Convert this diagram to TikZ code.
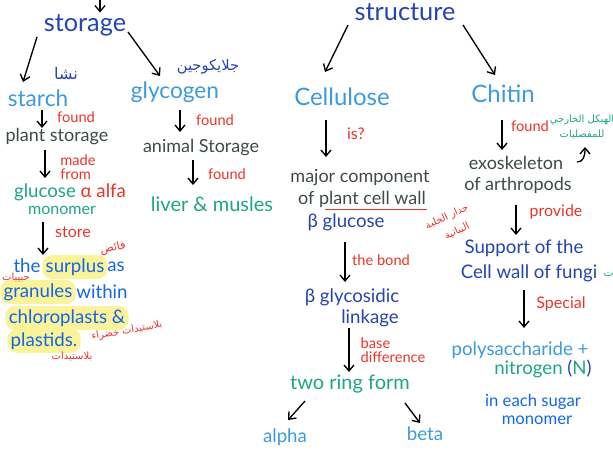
\documentclass[tikz,border=0pt]{standalone}
\usepackage{fontspec}
\setmainfont{Lato}
\newfontfamily\arabicfont[Script=Arabic]{DejaVu Sans}
\TeXXeTstate=1
\usetikzlibrary{arrows.meta,calc}
\definecolor{dblue}{HTML}{2444B0}
\definecolor{lblue}{HTML}{3C9BDC}
\definecolor{bblue}{HTML}{1466E6}
\definecolor{gray1}{HTML}{3E4A4A}
\definecolor{red1}{HTML}{E8352A}
\definecolor{green1}{HTML}{1FA584}
\definecolor{hly}{HTML}{FAF39A}
\tikzset{
  every node/.style={inner sep=1pt},
  head/.style={text=dblue, font=\fontsize{19}{21}\selectfont},
  noun/.style={text=lblue, font=\fontsize{17}{19}\selectfont},
  gtxt/.style={text=gray1, font=\fontsize{13.5}{15}\selectfont},
  dtxt/.style={text=dblue, font=\fontsize{14}{17}\selectfont},
  btxt/.style={text=bblue, font=\fontsize{14}{17}\selectfont},
  grtxt/.style={text=green1, font=\fontsize{14}{17}\selectfont},
  lab/.style={text=red1, font=\fontsize{11}{11}\selectfont, align=left},
  ar/.style={font=\arabicfont\fontsize{8.5}{9}\selectfont},
  hl/.style={fill=hly, rounded corners=7pt, inner sep=2.5pt},
  arr/.style={-{Straight Barb[length=4.5pt,width=7.5pt]}, line width=1pt, black},
}
\begin{document}
\begin{tikzpicture}[x=0.75pt,y=-0.75pt]
\useasboundingbox (0,0) rectangle (613,461);
% headings
\node[head] (storage) at (85,25) {storage};
\node[head] (structure) at (405,12) {structure};
\coordinate (topin) at (100,-4);
% storage branch
\node[noun] (starch) at (38,98) {starch};
\node[ar,text=dblue,font=\arabicfont\fontsize{12}{12}\selectfont] (nasha) at (66,74) {\beginR نشا\endR};
\node[noun] (glycogen) at (175,92) {glycogen};
\node[ar,text=dblue,font=\arabicfont\fontsize{11}{12}\selectfont] (jlay) at (208,67) {\beginR جلايكوجين\endR};
\node[lab] (f1) at (76,117) {found};
\node[gtxt] (plantst) at (57,137) {plant storage};
\node[lab] (madefrom) at (78,167) {made\\from};
\node[grtxt] (glucose) at (70,192) {glucose \textcolor{red1}{α alfa}};
\node[grtxt,font=\fontsize{12}{14}\selectfont] (monomer) at (62,210) {monomer};
\node[lab,font=\fontsize{12}{12}\selectfont] (store) at (73,232) {store};
\node[btxt] (the) at (27,266) {the};
\node[btxt,hl] (surplus) at (75,267) {surplus};
\node[btxt] (as) at (116,267) {as};
\node[btxt,hl] (granules) at (38,292) {granules};
\node[btxt] (within) at (102,292) {within};
\node[btxt,hl] (chloro) at (67,318) {chloroplasts \&};
\node[btxt,hl] (plastids) at (44,341) {plastids.};
\node[ar,text=red1,rotate=12] (faed) at (113,248) {\beginR فائض\endR};
\node[ar,text=red1,font=\arabicfont\fontsize{7.5}{8}\selectfont] (hub) at (16,277) {\beginR حبيبات\endR};
\node[ar,text=red1,rotate=10,font=\arabicfont\fontsize{7.5}{8}\selectfont] (blk) at (127,331) {\beginR بلاستيدات خضراء\endR};
\node[ar,text=red1,font=\arabicfont\fontsize{7.5}{8}\selectfont] (bl) at (72,356) {\beginR بلاستيدات\endR};
\node[lab] (f2) at (215,120) {found};
\node[gtxt] (animal) at (201,148) {animal Storage};
\node[lab] (f3) at (227,174) {found};
\node[grtxt,font=\fontsize{15}{17}\selectfont] (liver) at (212,204) {liver \& musles};
% structure branch
\node[noun,font=\fontsize{18}{20}\selectfont] (cellulose) at (342,97) {Cellulose};
\node[noun,font=\fontsize{18}{20}\selectfont] (chitin) at (503,94) {Chitin};
\node[lab,font=\fontsize{12}{12}\selectfont] (is) at (356,134) {is?};
\node[gtxt] (major) at (360,178) {major component};
\node[gtxt] (ofplant) at (362,199) {of plant cell wall};
\node[ar,text=red1,rotate=25,font=\arabicfont\fontsize{7.5}{8}\selectfont] (jidar1) at (447,217) {\beginR جدار الخلية\endR};
\node[ar,text=red1,rotate=25,font=\arabicfont\fontsize{7.5}{8}\selectfont] (jidar2) at (457,231) {\beginR النباتية\endR};
\node[dtxt] (bglucose) at (346,222) {β glucose};
\node[lab] (bond) at (381,260) {the bond};
\node[dtxt] (bglyc) at (352,297) {β glycosidic};
\node[dtxt] (linkage) at (370,318) {linkage};
\node[lab] (basediff) at (393,350) {base\\difference};
\node[grtxt,font=\fontsize{15}{17}\selectfont] (tworing) at (350,384) {two ring form};
\node[noun,font=\fontsize{14}{16}\selectfont] (alpha) at (285,437) {alpha};
\node[noun,font=\fontsize{14}{16}\selectfont] (beta) at (425,434) {beta};
\node[lab] (f4) at (530,126) {found};
\node[ar,text=green1,align=center,font=\arabicfont\fontsize{7.5}{11}\selectfont] (haykal) at (582,127) {\beginR الهيكل الخارجي\endR\\\beginR للمفصليات\endR};
\node[gtxt] (exo) at (516,163) {exoskeleton};
\node[gtxt] (arth) at (518,185) {of arthropods};
\node[lab,font=\fontsize{12}{12}\selectfont] (provide) at (556,212) {provide};
\node[dtxt] (support) at (524,248) {Support of the};
\node[dtxt] (fungi) at (529,273) {Cell wall of fungi};
\node[ar,text=green1,font=\arabicfont\fontsize{8}{9}\selectfont,anchor=west] (fitr) at (602,274) {\beginR فطريات\endR};
\node[lab,font=\fontsize{12}{12}\selectfont] (special) at (561,304) {Special};
\node[noun,font=\fontsize{14}{16}\selectfont] (poly) at (520,350) {polysaccharide +};
\node[grtxt] (nitro) at (543,369) {nitrogen \textcolor{dblue}{(}N\textcolor{dblue}{)}};
\node[btxt,font=\fontsize{12.5}{14}\selectfont] (each) at (533,402) {in each sugar};
\node[btxt,font=\fontsize{12.5}{14}\selectfont] (mono2) at (537,420) {monomer};
% underline
\draw[red1,line width=0.9pt] ($(ofplant.south west)+(28,1)$) -- ($(ofplant.south east)+(0,1)$);
% arrows
\draw[arr] (topin) -- (topin |- storage.north);
\draw[arr] ($(storage)+(-48,12)$) -- ($(starch)+(-15,-16)$);
\draw[arr] ($(storage)+(43,7)$) -- ($(glycogen)+(-15,-16)$);
\draw[arr] ($(structure)+(-57,13)$) -- ($(cellulose)+(-17,-25)$);
\draw[arr] ($(structure)+(58,13)$) -- ($(chitin)+(-8,-19)$);
\draw[arr] ($(starch)+(4,12)$) -- ($(plantst)+(-15,-9)$);
\draw[arr] ($(plantst)+(-12,13)$) -- ($(glucose)+(-25,-14)$);
\draw[arr] ($(monomer)+(-19,12)$) -- ($(the)+(16,-11)$);
\draw[arr] ($(glycogen)+(5,18)$) -- ($(animal)+(-21,-16)$);
\draw[arr] ($(animal)+(-8,12)$) -- ($(liver)+(-19,-19)$);
\draw[arr] ($(cellulose)+(-16,23)$) -- ($(major)+(-34,-21)$);
\draw[arr] ($(bglucose)+(-1,20)$) -- ($(bglyc)+(-7,-15)$);
\draw[arr] ($(linkage)+(-21,10)$) -- ($(tworing)+(-1,-12)$);
\draw[arr] ($(tworing)+(-45,17)$) -- ($(alpha)+(3,-17)$);
\draw[arr] ($(tworing)+(55,19)$) -- ($(beta)+(-5,-11)$);
\draw[arr] ($(chitin)+(-1,26)$) -- ($(exo)+(-14,-13)$);
\draw[arr] ($(arth)+(-2,20)$) -- ($(support)+(-8,-13)$);
\draw[arr] ($(fungi)+(-5,17)$) -- ($(poly)+(4,-22)$);
\draw[arr] ($(exo)+(61,-1)$) .. controls ($(exo)+(67,-1)$) and ($(exo)+(69,-6)$) .. ($(haykal)+(3,20)$);
\end{tikzpicture}
\end{document}
